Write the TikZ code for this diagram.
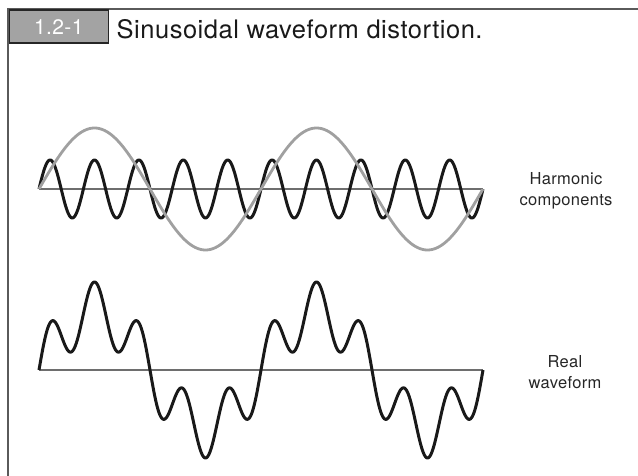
\documentclass[tikz,border=0pt]{standalone}
\usepackage{fontspec}
\setmainfont{TeX Gyre Heros}
\newfontfamily\titlefont[LetterSpace=2]{TeX Gyre Heros}
\newfontfamily\labelfont[LetterSpace=2]{TeX Gyre Heros}
\newfontfamily\tagfont[LetterSpace=2]{TeX Gyre Heros}
\definecolor{framegray}{HTML}{5A5A5A}
\definecolor{tagfill}{HTML}{A3A3A3}
\definecolor{fundgray}{HTML}{A0A0A0}
\definecolor{axisgray}{HTML}{6E6E6E}
\begin{document}
\begin{tikzpicture}[x=1pt,y=-1pt,
  framestyle/.style={draw=framegray,line width=1.8pt},
  tagstyle/.style={rectangle,draw=black!85,line width=1.6pt,fill=tagfill,text=white,
    minimum width=99pt,minimum height=33pt,inner sep=0pt,font=\tagfont\fontsize{21}{24}\selectfont},
  titlestyle/.style={font=\titlefont\fontsize{25.5}{29}\selectfont,text=black!90,inner sep=0pt},
  labelstyle/.style={font=\labelfont\fontsize{16.5}{21.5}\selectfont,text=black!85,align=center,inner sep=0pt},
  axisstyle/.style={draw=axisgray,line width=1.4pt},
  harmstyle/.style={draw=black!90,line width=3pt,line join=round},
  fundstyle/.style={draw=fundgray,line width=2.8pt,line join=round},
  realstyle/.style={draw=black!90,line width=3pt,line join=round}]
\useasboundingbox (0,0) rectangle (638,476);
% frame
\coordinate (fbl) at (8,476);
\coordinate (ftl) at (8,9);
\coordinate (ftr) at (638,9);
\draw[framestyle] (fbl) -- (ftl) -- (ftr);
% title
\node[tagstyle,anchor=north west] (tag) at (8.5,9.5) {1.2-1};
\node[titlestyle,anchor=base west] (title) at (116.5,38.5) {Sinusoidal waveform distortion.};
% top axis
\coordinate (a1) at (39,189);
\coordinate (a2) at (483,189);
\draw[axisstyle] (a1) -- (a2);
\draw[harmstyle] plot[domain=0:720,samples=500,smooth] ({39+\x*0.6166667},{189-29*sin(5*\x)});
\draw[fundstyle] plot[domain=0:720,samples=300,smooth] ({39+\x*0.6166667},{189-61*sin(\x)});
% bottom axis
\coordinate (b1) at (39,370);
\coordinate (b2) at (483,370);
\draw[axisstyle] (b1) -- (b2);
\draw[realstyle] plot[domain=0:720,samples=500,smooth] ({39+\x*0.6166667},{370-59*sin(\x)-29*sin(5*\x)});
% labels
\node[labelstyle] (harm) at (566,191) {Harmonic\\components};
\node[labelstyle] (real) at (565,372) {Real\\waveform};
\end{tikzpicture}
\end{document}
